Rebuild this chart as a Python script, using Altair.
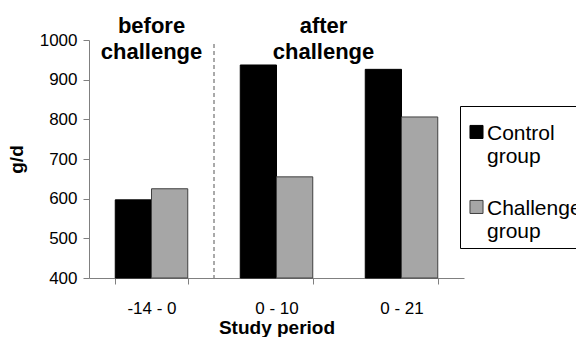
import altair as alt
import pandas as pd

periods = ["-14 - 0", "0 - 10", "0 - 21"]
groups = ["Control group", "Challenge group"]
control = [597, 937, 926]
challenge = [625, 655, 806]
y_ticks = [400, 500, 600, 700, 800, 900, 1000]
phase_labels = ["before\nchallenge", "after\nchallenge"]

rows = []
for i, p in enumerate(periods):
    rows.append({"period": p, "group": groups[0], "value": control[i]})
    rows.append({"period": p, "group": groups[1], "value": challenge[i]})
df = pd.DataFrame(rows)

FONT = "Liberation Sans"
WIDTH = 375
HEIGHT = 238
P_IN = 0.42
xscale = alt.Scale(domain=periods, paddingInner=P_IN, paddingOuter=P_IN / 2)
yscale = alt.Scale(domain=[400, 1000], nice=False, zero=False)
step = WIDTH / len(periods)
gap_half = P_IN * step / 2

x_axis = alt.Axis(title="Study period", labelAngle=0, tickBand="extent",
                  tickSize=6, labelPadding=16, titlePadding=2,
                  labelFontSize=17, titleFontSize=19)
y_axis = alt.Axis(title="g/d", values=y_ticks, format="d", tickSize=6,
                  labelPadding=6, titlePadding=13, labelFontSize=17, titleFontSize=19)

# square symbol shifted down so it lines up with the first label line
shifted_square = "M-1,0.45L1,0.45L1,2.45L-1,2.45Z"

legend = alt.Legend(
    title=None, orient="none", legendX=371, legendY=66, direction="vertical",
    strokeColor="black", fillColor="white", padding=6,
    symbolType=shifted_square, symbolSize=170, symbolStrokeWidth=1,
    symbolOffset=0,
    labelFont=FONT, labelFontSize=21, labelColor="black",
    labelExpr="split(datum.label, ' ')", labelBaseline="top", labelLimit=300,
    rowPadding=20, labelOffset=0,
)

bars = alt.Chart(df).mark_bar(strokeWidth=1).encode(
    x=alt.X("period:N", scale=xscale, sort=periods, axis=x_axis),
    xOffset=alt.XOffset("group:N", sort=groups,
                        scale=alt.Scale(domain=groups, paddingInner=0, paddingOuter=0)),
    y=alt.Y("value:Q", scale=yscale, axis=y_axis),
    y2=alt.datum(400),
    color=alt.Color("group:N", sort=groups,
                    scale=alt.Scale(domain=groups, range=["#000000", "#a6a6a6"]),
                    legend=legend),
    stroke=alt.Stroke("group:N", sort=groups,
                      scale=alt.Scale(domain=groups, range=["#000000", "#404040"]),
                      legend=legend),
)

rule_df = pd.DataFrame({"period": [periods[0]]})
rule = alt.Chart(rule_df).mark_rule(color="#555555", strokeDash=[4, 3], strokeWidth=1,
                                    xOffset=gap_half).encode(
    x=alt.X("period:N", bandPosition=1, scale=xscale, axis=x_axis, sort=periods),
    y=alt.value(4),
    y2=alt.value(HEIGHT),
)

t1_df = pd.DataFrame({"period": [periods[0]], "label": [phase_labels[0]]})
t2_df = pd.DataFrame({"period": [periods[1]], "label": [phase_labels[1]]})
text_props = dict(font=FONT, fontSize=22, fontWeight="bold", lineBreak="\n",
                  lineHeight=26, baseline="top", align="center", color="black")
t1 = alt.Chart(t1_df).mark_text(dx=0, **text_props).encode(
    x=alt.X("period:N", bandPosition=0.5, scale=xscale, axis=x_axis, sort=periods),
    y=alt.value(-24),
    text="label:N",
)
t2 = alt.Chart(t2_df).mark_text(dx=47, **text_props).encode(
    x=alt.X("period:N", bandPosition=0.5, scale=xscale, axis=x_axis, sort=periods),
    y=alt.value(-24),
    text="label:N",
)

chart = alt.layer(bars, rule, t1, t2).properties(
    width=WIDTH, height=HEIGHT,
    autosize=alt.AutoSizeParams(type="none"),
    padding={"left": 81, "top": 32, "right": 112, "bottom": 59},
).configure_view(stroke=None).configure_axis(
    grid=False, domainColor="#808080", tickColor="#808080",
    labelColor="black", titleColor="black",
    labelFont=FONT, titleFont=FONT, titleFontWeight="bold",
)

chart.save("out.html", embed_options={"renderer": "svg", "actions": False})
